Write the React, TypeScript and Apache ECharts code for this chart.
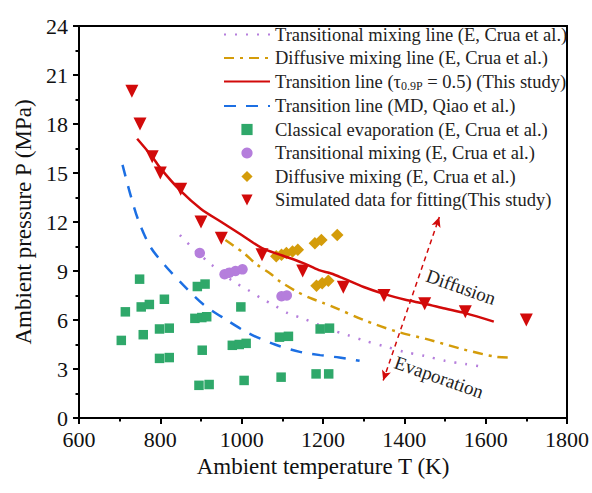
import React, { useEffect, useRef } from "react";
import * as echarts from "echarts";

// ---- data ----
const transitionalMixingLine: number[][] = [
  [848, 11.2], [880, 10.4], [925, 9.4], [980, 8.35], [1015, 7.85], [1050, 7.3], [1080, 6.9],
  [1115, 6.4], [1150, 6.1], [1185, 5.75], [1220, 5.4], [1260, 5.08], [1300, 4.75], [1350, 4.4],
  [1400, 4.05], [1450, 3.8], [1500, 3.5], [1550, 3.3], [1603, 3.1],
];
const diffusiveMixingLine: number[][] = [
  [960, 10.9], [1005, 10.1], [1037, 9.4], [1070, 8.85], [1095, 8.35], [1135, 7.75], [1168, 7.35],
  [1200, 7.05], [1235, 6.7], [1300, 6.0], [1380, 5.3], [1460, 4.8], [1545, 4.2], [1625, 3.75], [1665, 3.7],
];
const transitionLineThisStudy: number[][] = [
  [743, 17.1], [780, 16.0], [800, 15.3], [850, 13.9], [900, 12.8], [950, 12.0], [1000, 11.2],
  [1050, 10.4], [1100, 9.95], [1150, 9.5], [1190, 9.05], [1220, 8.85], [1250, 8.55], [1300, 8.02],
  [1350, 7.6], [1400, 7.25], [1450, 7.0], [1500, 6.7], [1550, 6.42], [1620, 5.9],
];
const transitionLineQiao: number[][] = [
  [707, 15.5], [725, 13.8], [746, 12.1], [775, 10.5], [811, 9.35], [856, 8.15], [906, 6.95],
  [963, 6.0], [1016, 5.2], [1082, 4.5], [1143, 4.05], [1193, 3.85], [1240, 3.7], [1290, 3.5],
];
const classicalEvaporation: number[][] = [
  [704, 4.75], [714, 6.5], [749, 8.5], [753, 6.8], [773, 6.95], [758, 5.1], [798, 5.45], [822, 5.5],
  [798, 3.65], [822, 3.7], [810, 7.27], [891, 8.05], [910, 8.2], [885, 6.1], [902, 6.15], [914, 6.2],
  [903, 4.15], [895, 2.0], [920, 2.05], [998, 6.8], [977, 4.45], [994, 4.5], [1011, 4.57], [1006, 2.3],
  [1093, 4.95], [1115, 5.0], [1097, 2.5], [1193, 5.45], [1216, 5.5], [1183, 2.7], [1214, 2.7],
];
const transitionalMixing: number[][] = [
  [897, 10.1], [958, 8.8], [970, 8.9], [985, 9.0], [1002, 9.1], [1098, 7.45], [1111, 7.5],
];
const diffusiveMixing: number[][] = [
  [1085, 9.9], [1098, 10.0], [1110, 10.1], [1125, 10.2], [1138, 10.3], [1180, 10.7], [1196, 10.9],
  [1235, 11.2], [1184, 8.1], [1198, 8.25], [1213, 8.4],
];
const simulatedData: number[][] = [
  [730, 20], [750, 18], [780, 16], [800, 15], [850, 14], [900, 12], [950, 11], [1050, 10],
  [1150, 9], [1250, 8], [1350, 7.5], [1450, 7], [1550, 6.5], [1700, 6],
];
const regimeArrow: number[][] = [[1348, 2.3], [1486, 12.3]];

const names = {
  tml: "Transitional mixing line (E, Crua et al.)",
  dml: "Diffusive mixing line (E, Crua et al.)",
  tl: "Transition line (τ0.9P = 0.5) (This study)",
  tlq: "Transition line (MD, Qiao et al.)",
  ce: "Classical evaporation (E, Crua et al.)",
  tm: "Transitional mixing (E, Crua et al.)",
  dm: "Diffusive mixing (E, Crua et al.)",
  sd: "Simulated data for fitting(This study)",
};

const SERIF = "Liberation Serif, serif";
const PURPLE = "#B57EDC";
const ORANGE = "#D49C0A";
const RED = "#D20A0A";
const BLUE = "#1C6FE3";
const GREEN = "#2FA86A";
const TRI_DOWN = "path://M0,0 L10,0 L5,9 Z";

export default function App() {
  const ref = useRef<HTMLDivElement>(null);
  useEffect(() => {
    if (!ref.current) return;
    const chart = echarts.init(ref.current, undefined, { renderer: "svg" });
    const pointSeries = (name: string, data: number[][], symbol: string, size: number, color: string) => ({
      name,
      type: "line",
      data,
      symbol,
      symbolSize: size,
      showSymbol: true,
      lineStyle: { opacity: 0, width: 0 },
      itemStyle: { color },
      z: 3,
    });
    const lineSeries = (name: string, data: number[][], color: string, type: any, z = 2) => ({
      name,
      type: "line",
      data,
      symbol: "none",
      smooth: 0.3,
      lineStyle: { color, width: 2.5, type },
      itemStyle: { color },
      z,
    });
    const lineLegend = (name: string) => ({ name, itemStyle: { opacity: 0 } });
    const axisCommon = {
      nameLocation: "middle",
      nameTextStyle: { fontFamily: SERIF, fontSize: 23, color: "#111" },
      axisLine: { show: true, lineStyle: { color: "#000", width: 2 } },
      axisTick: { show: true, inside: false, length: 6, lineStyle: { color: "#000", width: 2 } },
      minorTick: { show: true, splitNumber: 2, length: 3.5, lineStyle: { color: "#000", width: 2 } },
      splitLine: { show: false },
    };
    chart.setOption({
      animation: false,
      grid: {
        left: 79, right: 25, top: 26, bottom: 75,
        show: true, borderColor: "#000", borderWidth: 2, backgroundColor: "transparent",
      },
      legend: {
        orient: "vertical",
        left: 223,
        top: 25,
        padding: 0,
        itemWidth: 46,
        itemHeight: 14,
        itemGap: 4.5,
        data: [
          lineLegend(names.tml), lineLegend(names.dml), lineLegend(names.tl), lineLegend(names.tlq),
          names.ce, names.tm, names.dm, names.sd,
        ],
        textStyle: {
          fontFamily: SERIF,
          fontSize: 18.5,
          color: "#222",
          rich: {
            sub: { fontFamily: SERIF, fontSize: 12, color: "#222", verticalAlign: "bottom", padding: [9, 0, 0, 0] },
          },
        },
        formatter: (n: string) =>
          n === names.tl ? "Transition line (τ{sub|0.9P} = 0.5) (This study)" : n,
      },
      xAxis: {
        ...axisCommon,
        type: "value",
        min: 600,
        max: 1800,
        interval: 200,
        name: "Ambient temperature T (K)",
        nameGap: 37,
        axisLabel: { fontFamily: SERIF, fontSize: 22, color: "#111", margin: 10, formatter: (v: number) => String(v) },
      },
      yAxis: {
        ...axisCommon,
        type: "value",
        min: 0,
        max: 24,
        interval: 3,
        name: "Ambient pressure P (MPa)",
        nameGap: 42,
        axisLabel: { fontFamily: SERIF, fontSize: 22, color: "#111", margin: 11, formatter: (v: number) => String(v) },
      },
      series: [
        lineSeries(names.tml, transitionalMixingLine, PURPLE, [2, 9]),
        lineSeries(names.dml, diffusiveMixingLine, ORANGE, [10, 6, 3, 6]),
        {
          ...lineSeries(names.tl, transitionLineThisStudy, RED, "solid", 4),
          markLine: {
            silent: true,
            symbol: ["arrow", "arrow"],
            symbolSize: [7, 10],
            label: { show: false },
            lineStyle: { color: RED, width: 1.5, type: [5, 4] },
            data: [[{ coord: regimeArrow[0] }, { coord: regimeArrow[1] }]],
          },
        },
        lineSeries(names.tlq, transitionLineQiao, BLUE, [12, 10]),
        pointSeries(names.ce, classicalEvaporation, "rect", 9.5, GREEN),
        pointSeries(names.tm, transitionalMixing, "circle", 10.5, PURPLE),
        pointSeries(names.dm, diffusiveMixing, "diamond", 12.5, ORANGE),
        pointSeries(names.sd, simulatedData, TRI_DOWN, 13, RED),
      ],
      graphic: [
        {
          type: "text",
          x: 461,
          y: 287,
          rotation: -0.34,
          style: { text: "Diffusion", fontFamily: SERIF, fontSize: 19, fill: "#222", align: "center", verticalAlign: "middle" },
        },
        {
          type: "text",
          x: 439,
          y: 377,
          rotation: -0.34,
          style: { text: "Evaporation", fontFamily: SERIF, fontSize: 19, fill: "#222", align: "center", verticalAlign: "middle" },
        },
      ],
    });
    return () => chart.dispose();
  }, []);
  return <div ref={ref} style={{ width: 592, height: 493, position: "absolute", left: 0, top: 0, background: "#fff" }} />;
}
